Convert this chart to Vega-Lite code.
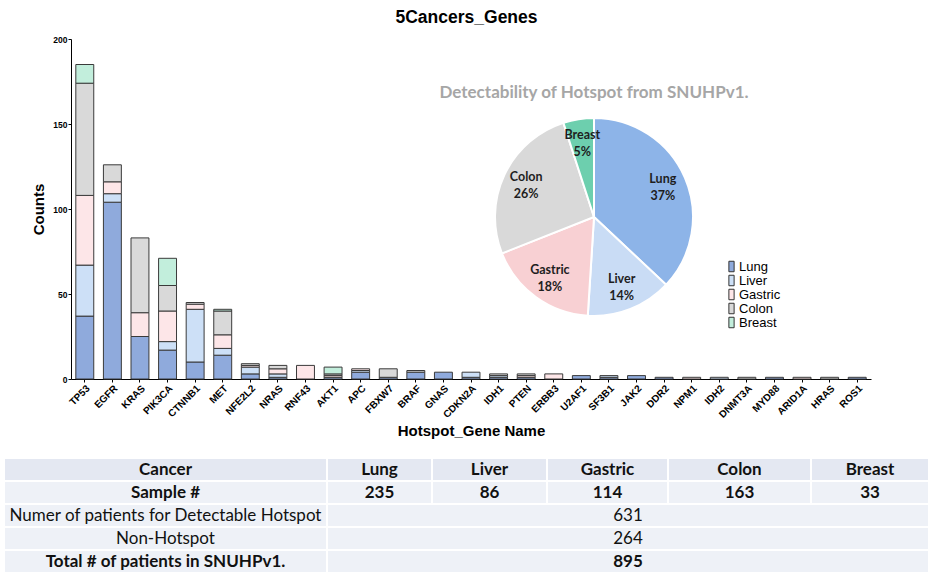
{
  "$schema": "https://vega.github.io/schema/vega-lite/v6.json",
  "background": "white",
  "padding": {"left": 3, "top": 8, "right": 5, "bottom": 5},
  "title": {"text": "5Cancers_Genes", "font": "Liberation Sans", "fontSize": 17.5, "fontWeight": "bold", "color": "#000000", "anchor": "middle", "frame": "bounds", "offset": 9},
  "bounds": "flush",
  "spacing": 79,
  "config": {"view": {"stroke": null}, "font": "Liberation Sans", "legend": {"rowPadding": -4}},
  "datasets": {
    "genes": [
      {"gene": "TP53", "cancer": "Lung", "count": 37}, {"gene": "TP53", "cancer": "Liver", "count": 30}, {"gene": "TP53", "cancer": "Gastric", "count": 41}, {"gene": "TP53", "cancer": "Colon", "count": 66}, {"gene": "TP53", "cancer": "Breast", "count": 11},
      {"gene": "EGFR", "cancer": "Lung", "count": 104}, {"gene": "EGFR", "cancer": "Liver", "count": 5}, {"gene": "EGFR", "cancer": "Gastric", "count": 7}, {"gene": "EGFR", "cancer": "Colon", "count": 10},
      {"gene": "KRAS", "cancer": "Lung", "count": 25}, {"gene": "KRAS", "cancer": "Gastric", "count": 14}, {"gene": "KRAS", "cancer": "Colon", "count": 44},
      {"gene": "PIK3CA", "cancer": "Lung", "count": 17}, {"gene": "PIK3CA", "cancer": "Liver", "count": 5}, {"gene": "PIK3CA", "cancer": "Gastric", "count": 18}, {"gene": "PIK3CA", "cancer": "Colon", "count": 15}, {"gene": "PIK3CA", "cancer": "Breast", "count": 16},
      {"gene": "CTNNB1", "cancer": "Lung", "count": 10}, {"gene": "CTNNB1", "cancer": "Liver", "count": 31}, {"gene": "CTNNB1", "cancer": "Gastric", "count": 3}, {"gene": "CTNNB1", "cancer": "Colon", "count": 1},
      {"gene": "MET", "cancer": "Lung", "count": 14}, {"gene": "MET", "cancer": "Liver", "count": 4}, {"gene": "MET", "cancer": "Gastric", "count": 8}, {"gene": "MET", "cancer": "Colon", "count": 14}, {"gene": "MET", "cancer": "Breast", "count": 1},
      {"gene": "NFE2L2", "cancer": "Lung", "count": 3}, {"gene": "NFE2L2", "cancer": "Liver", "count": 4}, {"gene": "NFE2L2", "cancer": "Gastric", "count": 1}, {"gene": "NFE2L2", "cancer": "Colon", "count": 1},
      {"gene": "NRAS", "cancer": "Lung", "count": 1}, {"gene": "NRAS", "cancer": "Liver", "count": 2}, {"gene": "NRAS", "cancer": "Gastric", "count": 3}, {"gene": "NRAS", "cancer": "Colon", "count": 2},
      {"gene": "RNF43", "cancer": "Gastric", "count": 8},
      {"gene": "AKT1", "cancer": "Lung", "count": 1}, {"gene": "AKT1", "cancer": "Gastric", "count": 1}, {"gene": "AKT1", "cancer": "Colon", "count": 1}, {"gene": "AKT1", "cancer": "Breast", "count": 4},
      {"gene": "APC", "cancer": "Lung", "count": 4}, {"gene": "APC", "cancer": "Liver", "count": 1}, {"gene": "APC", "cancer": "Gastric", "count": 1},
      {"gene": "FBXW7", "cancer": "Lung", "count": 1}, {"gene": "FBXW7", "cancer": "Colon", "count": 5},
      {"gene": "BRAF", "cancer": "Lung", "count": 4}, {"gene": "BRAF", "cancer": "Colon", "count": 1},
      {"gene": "GNAS", "cancer": "Lung", "count": 4},
      {"gene": "CDKN2A", "cancer": "Lung", "count": 1}, {"gene": "CDKN2A", "cancer": "Liver", "count": 3},
      {"gene": "IDH1", "cancer": "Lung", "count": 1}, {"gene": "IDH1", "cancer": "Liver", "count": 1}, {"gene": "IDH1", "cancer": "Colon", "count": 1},
      {"gene": "PTEN", "cancer": "Lung", "count": 1}, {"gene": "PTEN", "cancer": "Gastric", "count": 1}, {"gene": "PTEN", "cancer": "Colon", "count": 1},
      {"gene": "ERBB3", "cancer": "Gastric", "count": 3},
      {"gene": "U2AF1", "cancer": "Lung", "count": 2},
      {"gene": "SF3B1", "cancer": "Lung", "count": 1}, {"gene": "SF3B1", "cancer": "Liver", "count": 1},
      {"gene": "JAK2", "cancer": "Lung", "count": 2},
      {"gene": "DDR2", "cancer": "Lung", "count": 1},
      {"gene": "NPM1", "cancer": "Gastric", "count": 1},
      {"gene": "IDH2", "cancer": "Liver", "count": 1},
      {"gene": "DNMT3A", "cancer": "Colon", "count": 1},
      {"gene": "MYD88", "cancer": "Lung", "count": 1},
      {"gene": "ARID1A", "cancer": "Gastric", "count": 1},
      {"gene": "HRAS", "cancer": "Colon", "count": 1},
      {"gene": "ROS1", "cancer": "Lung", "count": 1}
    ],
    "pie": [
      {"slice": "Lung", "k": 1, "share": 0.37},
      {"slice": "Liver", "k": 2, "share": 0.14},
      {"slice": "Gastric", "k": 3, "share": 0.18},
      {"slice": "Colon", "k": 4, "share": 0.26},
      {"slice": "Breast", "k": 5, "share": 0.05}
    ],
    "table": [
      {"r": 0, "c0": 0, "c1": 1, "t": "Cancer"}, {"r": 0, "c0": 1, "c1": 2, "t": "Lung"}, {"r": 0, "c0": 2, "c1": 3, "t": "Liver"}, {"r": 0, "c0": 3, "c1": 4, "t": "Gastric"}, {"r": 0, "c0": 4, "c1": 5, "t": "Colon"}, {"r": 0, "c0": 5, "c1": 6, "t": "Breast"},
      {"r": 1, "c0": 0, "c1": 1, "t": "Sample #"}, {"r": 1, "c0": 1, "c1": 2, "t": "235"}, {"r": 1, "c0": 2, "c1": 3, "t": "86"}, {"r": 1, "c0": 3, "c1": 4, "t": "114"}, {"r": 1, "c0": 4, "c1": 5, "t": "163"}, {"r": 1, "c0": 5, "c1": 6, "t": "33"},
      {"r": 2, "c0": 0, "c1": 1, "t": "Numer of patients for Detectable Hotspot"}, {"r": 2, "c0": 1, "c1": 6, "t": "631"},
      {"r": 3, "c0": 0, "c1": 1, "t": "Non-Hotspot"}, {"r": 3, "c0": 1, "c1": 6, "t": "264"},
      {"r": 4, "c0": 0, "c1": 1, "t": "Total # of patients in SNUHPv1."}, {"r": 4, "c0": 1, "c1": 6, "t": "895"}
    ]
  },
  "vconcat": [
    {
      "width": 800,
      "height": 340,
      "resolve": {"scale": {"color": "independent"}},
      "layer": [
        {
          "data": {"name": "genes"},
          "mark": {"type": "bar", "stroke": "#3a3a3a", "strokeWidth": 1},
          "encoding": {
            "x": {
              "field": "gene", "type": "nominal",
              "scale": {"domain": ["TP53", "EGFR", "KRAS", "PIK3CA", "CTNNB1", "MET", "NFE2L2", "NRAS", "RNF43", "AKT1", "APC", "FBXW7", "BRAF", "GNAS", "CDKN2A", "IDH1", "PTEN", "ERBB3", "U2AF1", "SF3B1", "JAK2", "DDR2", "NPM1", "IDH2", "DNMT3A", "MYD88", "ARID1A", "HRAS", "ROS1"], "paddingInner": 0.35, "paddingOuter": 0.175},
              "axis": {"title": "Hotspot_Gene Name", "titleFont": "Liberation Sans", "titleFontSize": 15, "titleFontWeight": "bold", "titleColor": "#000000", "titlePadding": 4, "labelAngle": -45, "labelFont": "Liberation Sans", "labelFontSize": 10, "labelFontWeight": "bold", "labelColor": "#000000", "labelPadding": 1, "domainColor": "#000000", "tickColor": "#000000", "tickSize": 3, "grid": false}
            },
            "y": {
              "field": "count", "type": "quantitative", "stack": "zero",
              "scale": {"domain": [0, 200], "nice": false},
              "axis": {"title": "Counts", "titleFont": "Liberation Sans", "titleFontSize": 15, "titleFontWeight": "bold", "titleColor": "#000000", "titlePadding": 6, "values": [0, 50, 100, 150, 200], "labelFont": "Liberation Sans", "labelFontSize": 8.5, "labelFontWeight": "bold", "labelColor": "#000000", "labelPadding": 1, "tickSize": 3, "tickColor": "#000000", "domainColor": "#000000", "grid": false}
            },
            "color": {
              "field": "cancer", "type": "nominal",
              "sort": ["Lung", "Liver", "Gastric", "Colon", "Breast"],
              "scale": {"domain": ["Lung", "Liver", "Gastric", "Colon", "Breast"], "range": ["#8faadc", "#cde0f7", "#fde6e8", "#d9d9d9", "#c2eedc"]},
              "legend": {"orient": "none", "legendX": 654, "legendY": 221, "title": null, "padding": 0, "columns": 1, "direction": "vertical", "labelFont": "Liberation Sans", "labelFontSize": 13, "labelColor": "#000000", "labelOffset": 1, "symbolType": "M-0.5,-1H0.5V1H-0.5Z", "symbolSize": 110, "symbolStrokeColor": "#333333", "symbolStrokeWidth": 1, "rowPadding": -4}
            }
          }
        },
        {
          "data": {"name": "pie"},
          "encoding": {
            "theta": {"field": "share", "type": "quantitative", "stack": true},
            "order": {"field": "k", "type": "quantitative"},
            "color": {
              "field": "slice", "type": "nominal",
              "scale": {"domain": ["Lung", "Liver", "Gastric", "Colon", "Breast"], "range": ["#8db4e8", "#c9dcf5", "#f8d0d3", "#d9d9d9", "#6dcfae"]},
              "legend": null
            }
          },
          "layer": [
            {"mark": {"type": "arc", "outerRadius": 99, "stroke": "white", "strokeWidth": 2, "x": 523, "y": 178}},
            {"mark": {"type": "text", "radius": 75, "dy": -8, "x": 523, "y": 178, "font": "Lato", "fontSize": 12.5, "fontWeight": "bold"}, "encoding": {"text": {"field": "slice"}, "fill": {"value": "#1e1e1e"}}},
            {"mark": {"type": "text", "radius": 75, "dy": 9, "x": 523, "y": 178, "font": "Lato", "fontSize": 12.5, "fontWeight": "bold"}, "encoding": {"text": {"field": "share", "format": ".0%"}, "fill": {"value": "#1e1e1e"}}}
          ]
        },
        {
          "data": {"values": [{"t": "Detectability of Hotspot from SNUHPv1."}]},
          "mark": {"type": "text", "x": 523, "y": 54, "font": "Lato", "fontSize": 17, "fontWeight": "bold", "color": "#a6a6a6"},
          "encoding": {"text": {"field": "t"}}
        }
      ]
    },
    {
      "width": 858,
      "height": 115,
      "data": {"name": "table"},
      "resolve": {"scale": {"x": "independent"}},
      "encoding": {
        "y": {"field": "r", "type": "ordinal", "axis": null, "scale": {"paddingInner": 0, "paddingOuter": 0}}
      },
      "layer": [
        {
          "mark": {"type": "rect", "stroke": "white", "strokeWidth": 2},
          "encoding": {
            "x": {"field": "c0", "type": "quantitative", "axis": null, "scale": {"domain": [0, 1, 2, 3, 4, 5, 6], "range": [-67, 256, 361, 476, 597, 740, 858]}},
            "x2": {"field": "c1"},
            "fill": {"condition": {"test": "datum.r === 0", "value": "#e4e8f2"}, "value": "#eef1f7"}
          }
        },
        {
          "transform": [
            {"filter": "datum.c1 - datum.c0 === 1"},
            {"fold": ["c0", "c1"], "as": ["edge", "cx"]},
            {"aggregate": [{"op": "mean", "field": "cx", "as": "cm"}], "groupby": ["r", "t"]},
            {"filter": "datum.r === 0 || datum.r === 1 || datum.r === 4"}
          ],
          "mark": {"type": "text", "font": "Lato", "fontSize": 17, "fontWeight": "bold", "color": "#111111"},
          "encoding": {
            "x": {"field": "cm", "type": "quantitative", "axis": null, "scale": {"domain": [0, 1, 2, 3, 4, 5, 6], "range": [-67, 256, 361, 476, 597, 740, 858]}},
            "text": {"field": "t"}
          }
        },
        {
          "transform": [
            {"filter": "datum.c1 - datum.c0 === 1"},
            {"fold": ["c0", "c1"], "as": ["edge", "cx"]},
            {"aggregate": [{"op": "mean", "field": "cx", "as": "cm"}], "groupby": ["r", "t"]},
            {"filter": "datum.r === 2 || datum.r === 3"}
          ],
          "mark": {"type": "text", "font": "Lato", "fontSize": 17, "color": "#111111"},
          "encoding": {
            "x": {"field": "cm", "type": "quantitative", "axis": null, "scale": {"domain": [0, 1, 2, 3, 4, 5, 6], "range": [-67, 256, 361, 476, 597, 740, 858]}},
            "text": {"field": "t"}
          }
        },
        {
          "transform": [
            {"filter": "datum.c1 - datum.c0 > 1"},
            {"fold": ["c0", "c1"], "as": ["edge", "cx"]},
            {"aggregate": [{"op": "mean", "field": "cx", "as": "cm"}], "groupby": ["r", "t"]},
            {"filter": "datum.r === 4"}
          ],
          "mark": {"type": "text", "font": "Lato", "fontSize": 17, "fontWeight": "bold", "color": "#111111"},
          "encoding": {
            "x": {"field": "cm", "type": "quantitative", "axis": null, "scale": {"domain": [1, 6], "range": [256, 858]}},
            "text": {"field": "t"}
          }
        },
        {
          "transform": [
            {"filter": "datum.c1 - datum.c0 > 1"},
            {"fold": ["c0", "c1"], "as": ["edge", "cx"]},
            {"aggregate": [{"op": "mean", "field": "cx", "as": "cm"}], "groupby": ["r", "t"]},
            {"filter": "datum.r === 2 || datum.r === 3"}
          ],
          "mark": {"type": "text", "font": "Lato", "fontSize": 17, "color": "#111111"},
          "encoding": {
            "x": {"field": "cm", "type": "quantitative", "axis": null, "scale": {"domain": [1, 6], "range": [256, 858]}},
            "text": {"field": "t"}
          }
        }
      ]
    }
  ]
}
